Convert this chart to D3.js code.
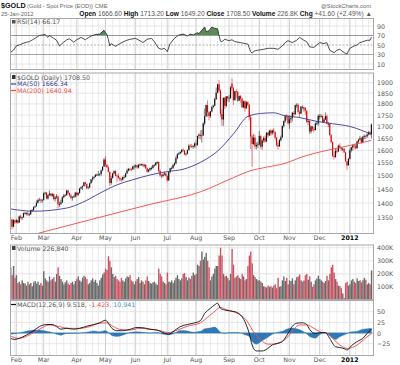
<!DOCTYPE html>
<html>
<head>
<meta charset="utf-8">
<script src="https://cdn.jsdelivr.net/npm/d3@7"></script>
<style>
body { margin: 0; background: #fff; }
svg text { font-family: "DejaVu Sans", Verdana, sans-serif; }
</style>
</head>
<body>
<svg id="chart"></svg>
<script>
// trading calendar: weekdays between the first and last bar, minus closed days
const firstDay = '2011-01-26', lastDay = '2012-01-25';
const closedDays = ['2011-02-21','2011-04-22','2011-05-30','2011-07-04','2011-09-05',
  '2011-11-24','2011-12-26','2012-01-02','2012-01-16'];

// daily OHLC, one line per month (Jan-11 .. Jan-12)
const opens = [
 1334,1342,1318,1338,
 1333,1340,1332,1353,1348,1350,1364,1365,1364,1360,1361,1374,1375,1385,1390,1400,1410,1412,1409,
 1411,1435,1437,1416,1428,1434,1426,1432,1414,1420,1423,1395,1396,1402,1420,1426,1428,1445,1435,1427,1418,1420,1423,
 1437,1429,1436,1452,1457,1461,1475,1469,1454,1456,1472,1486,1492,1496,1504,1504,1505,1507,1521,1535,
 1563,1543,1533,1515,1473,1491,1509,1518,1501,1500,1492,1487,1485,1495,1496,1509,1520,1527,1526,1525,1536,
 1536,1540,1532,1542,1543,1545,1539,1542,1529,1516,1523,1530,1530,1540,1541,1551,1553,1519,1501,1499,1505,1509,
 1500,1483,1514,1529,1530,1542,1548,1568,1584,1588,1594,1602,1600,1584,1587,1601,1619,1616,1615,1617,
 1628,1623,1659,1665,1659,1662,1713,1745,1795,1762,1745,1766,1786,1792,1822,1852,1892,1862,1755,1730,1828,1791,1835,
 1826,1828,1895,1873,1817,1859,1856,1815,1836,1824,1785,1812,1780,1808,1796,1740,1657,1626,1652,1616,1622,
 1624,1659,1615,1641,1650,1636,1673,1662,1682,1670,1683,1676,1652,1622,1616,1642,1654,1702,1723,1745,1744,
 1714,1731,1737,1760,1754,1794,1796,1763,1756,1788,1781,1783,1769,1720,1724,1678,1700,1690,1684,1713,1713,
 1746,1746,1746,1720,1730,1745,1712,1712,1663,1634,1578,1573,1598,1596,1619,1612,1606,1606,1592,1556,1540,
 1566,1600,1612,1620,1616,1609,1636,1644,1650,1633,1656,1660,1658,1666,1675,1666.6
];
const highs = [
 1346,1345,1344,1342,
 1345,1342,1357,1359,1352,1367,1369,1368,1371,1365,1376,1379,1388,1391,1409,1415,1419,1415,1414,
 1438,1441,1440,1431,1445,1436,1436,1434,1425,1432,1428,1405,1412,1425,1432,1433,1447,1448,1437,1432,1425,1428,1440,
 1440,1439,1455,1460,1464,1476,1478,1471,1462,1474,1487,1498,1498,1506,1508,1518,1510,1524,1536,1569,
 1577,1545,1539,1517,1500,1512,1521,1521,1505,1509,1495,1492,1497,1503,1511,1527,1529,1531,1529,1538,1543,
 1544,1544,1545,1548,1547,1547,1546,1545,1531,1526,1532,1536,1543,1545,1553,1557,1555,1524,1507,1509,1516,1511,
 1502,1518,1531,1536,1545,1553,1576,1589,1592,1596,1605,1609,1601,1590,1604,1624,1626,1627,1622,1633,
 1640,1661,1671,1683,1685,1718,1779,1797,1816,1766,1768,1793,1797,1828,1877,1895,1912,1868,1776,1830,1832,1836,1836,
 1842,1884,1921,1879,1860,1868,1861,1839,1842,1829,1815,1816,1813,1812,1799,1750,1664,1669,1664,1633,1636,
 1681,1664,1646,1658,1661,1676,1676,1686,1687,1687,1693,1678,1655,1633,1647,1661,1705,1726,1751,1753,1748,
 1749,1745,1764,1768,1797,1803,1802,1771,1790,1794,1787,1783,1770,1730,1727,1704,1702,1698,1718,1723,1753,
 1754,1755,1748,1737,1762,1752,1720,1714,1667,1637,1597,1606,1608,1624,1629,1614,1612,1609,1593,1557,1569,
 1607,1616,1624,1628,1623,1640,1647,1660,1655,1659,1666,1663,1671,1680,1680,1713.2
];
const lows = [
 1330,1309,1316,1327,
 1330,1328,1330,1343,1341,1349,1360,1356,1355,1354,1358,1369,1372,1382,1386,1398,1406,1401,1400,
 1408,1429,1412,1412,1426,1423,1421,1409,1405,1415,1380,1386,1393,1400,1417,1422,1426,1430,1422,1414,1408,1418,1420,
 1421,1425,1433,1450,1447,1460,1462,1450,1451,1454,1471,1478,1486,1494,1500,1500,1498,1500,1517,1534,
 1535,1530,1512,1462,1466,1490,1505,1498,1476,1489,1480,1477,1481,1489,1493,1508,1516,1518,1517,1522,1524,
 1530,1527,1528,1538,1538,1534,1532,1526,1512,1512,1518,1522,1527,1535,1539,1545,1512,1496,1491,1494,1501,1497,
 1478,1480,1509,1524,1526,1537,1545,1564,1581,1584,1588,1593,1580,1577,1583,1600,1612,1609,1606,1611,
 1611,1618,1647,1645,1632,1660,1704,1741,1742,1727,1737,1762,1779,1789,1818,1850,1853,1741,1702,1703,1777,1784,1811,
 1808,1823,1862,1795,1816,1828,1809,1815,1806,1779,1780,1765,1777,1790,1726,1605,1535,1622,1605,1604,1610,
 1620,1607,1602,1632,1631,1636,1653,1659,1660,1663,1670,1645,1615,1603,1615,1636,1650,1695,1716,1729,1708,
 1690,1715,1721,1745,1750,1782,1756,1737,1755,1775,1765,1752,1715,1706,1668,1670,1680,1675,1684,1706,1703,
 1731,1738,1717,1716,1727,1710,1697,1660,1628,1574,1564,1570,1587,1593,1605,1597,1598,1589,1554,1523,1540,
 1563,1592,1599,1605,1603,1606,1630,1639,1625,1629,1646,1647,1651,1662,1662,1649.2
];
const closes = [
 1342,1318,1341,1333,
 1340,1332,1353,1348,1350,1364,1364,1364,1360,1361,1374,1375,1385,1388,1400,1410,1412,1409,1411,
 1435,1437,1416,1428,1434,1426,1432,1414,1420,1423,1395,1396,1402,1420,1426,1428,1445,1435,1427,1418,1420,1423,1437,
 1429,1436,1452,1457,1461,1475,1469,1454,1456,1472,1486,1492,1496,1504,1504,1505,1507,1521,1535,1563,
 1543,1533,1515,1473,1491,1509,1518,1501,1500,1492,1487,1485,1495,1496,1509,1520,1527,1526,1525,1536,1536,
 1540,1532,1542,1543,1545,1539,1542,1529,1516,1523,1530,1530,1540,1541,1551,1553,1519,1501,1499,1505,1509,1500,
 1483,1514,1529,1530,1542,1548,1568,1584,1588,1594,1602,1600,1584,1587,1601,1619,1616,1615,1617,1628,
 1623,1659,1665,1659,1662,1713,1745,1795,1762,1745,1766,1786,1792,1822,1852,1892,1862,1755,1730,1828,1791,1835,1826,
 1828,1877,1873,1817,1859,1856,1815,1836,1824,1785,1812,1780,1808,1796,1740,1657,1626,1652,1616,1622,1624,
 1659,1615,1641,1650,1636,1673,1662,1682,1670,1683,1676,1652,1622,1616,1642,1654,1702,1723,1745,1744,1714,
 1731,1737,1760,1754,1794,1796,1763,1756,1788,1781,1783,1769,1720,1724,1678,1700,1690,1684,1713,1713,1746,
 1746,1746,1720,1730,1745,1712,1712,1663,1634,1578,1573,1598,1596,1619,1612,1606,1606,1592,1556,1540,1566,
 1600,1612,1620,1616,1609,1636,1644,1650,1633,1656,1660,1658,1666,1675,1666.9,1708.5
];
// volume in thousands
const volumes = [
 250,190,260,170,
 190,130,140,120,150,130,125,110,140,120,130,105,135,145,125,140,115,130,110,
 220,165,150,140,180,150,160,175,140,200,250,185,160,140,120,135,150,125,115,130,140,120,145,
 160,180,150,140,170,185,175,160,120,130,150,165,140,155,130,110,150,170,195,210,
 240,230,335,300,250,200,175,185,160,150,140,170,150,140,165,180,175,190,150,140,120,
 145,160,175,130,150,140,120,150,180,145,130,125,135,140,125,115,240,200,180,140,130,120,
 210,140,135,150,130,150,170,190,160,150,165,200,205,175,150,170,160,185,210,190,
 200,270,260,300,370,310,330,360,300,250,150,180,200,240,260,260,340,400,340,200,180,185,170,
 150,200,390,270,170,180,190,170,160,200,180,150,160,260,340,370,280,190,175,160,150,
 150,140,130,105,100,95,110,100,105,95,110,120,90,170,100,105,150,180,145,170,120,
 150,145,165,120,150,175,180,195,150,140,150,190,200,155,180,140,100,120,150,165,185,
 160,150,140,130,145,185,150,200,250,270,210,160,140,110,105,90,50,15,130,140,110,
 120,150,160,140,130,165,145,150,135,150,170,155,120,130,120,226.8
];

// indicator readings: bar number -> value
const ma50Days = [0,16,39,50,62,74,85,97,109,120,132,144,155,165,174,183,190,201,213,224,236,251];
const ma50Values = [1379,1371,1382,1402,1435,1466,1485,1503,1516,1525,1552,1597,1668,1744,1757,1760,1748,1739,1722,1712,1700,1666.34];
const ma200Days = [14,62,97,132,155,166,178,192,201,224,236,251];
const ma200Values = [1290,1350,1395,1440,1493,1518,1533,1550,1570,1605,1620,1640.94];

const rsiDays = [0,2,4,6,10,13,17,20,24,26,27,30,32,34,37,39,41,44,46,49,52,54,56,59,62,65,66,67,68,69,70,73,76,80,83,87,90,92,95,98,
  100,103,105,107,109,111,114,117,120,123,125,127,130,131,133,135,136,138,140,142,144,145,146,147,149,152,154,156,160,163,
  165,166,167,168,170,172,176,179,183,186,189,191,193,196,199,201,204,206,208,211,213,215,218,220,222,225,227,229,232,234,
  236,239,241,243,245,248,250,251];
const rsiValues = [34.5,39,48,50,55,57,64,70,72,66,70,64,60,48,56,61,63,56,61,66,61,65,69,72,73,81,76,72,62,48,53,47,53,59,62,64,59,55,62,64,
  57,43,41,43,36,53,64,71,73,69,73,71,76,74,81,88,78,80,88,85,84,70,58,57,62,59,61,57,55,53,
  52,44,36,33,38,39,41,43,43,41,48,55,59,55,60,66,60,57,46,45,50,55,53,55,39,34,39,41,34,31,
  43,48,50,55,57,60,60,66.17];

const macdDays = [0,3,6,11,16,20,25,29,32,35,39,44,48,53,58,62,66,68,70,74,78,83,88,92,97,102,106,110,113,118,123,127,132,135,139,142,144,146,149,152,
  156,160,163,166,168,171,175,179,182,186,189,193,196,199,203,206,208,212,215,219,222,226,229,233,234,237,241,245,248,251];
const macdValues = [-12.5,-15,-12.5,-4.7,5.5,15,20,20,15,9,11,9,11,16,20,24,30,23,13,5.5,5.5,8.6,13,12.5,9,7,1,-3,3,15,20,23,29,46,58,66,70,58,54,52,
  50,42,26.5,-1,-28,-42,-42,-36,-28,-24,-20,-1,16,23,24,20,8.6,-1,1,1,-12.5,-32,-34,-38,-40,-30,-20,-12.5,-1,9.518];
const signalDays = [0,6,13,20,27,34,41,48,55,62,67,71,76,83,90,97,104,110,116,123,132,136,141,146,150,155,160,164,169,174,
  179,183,187,193,197,201,206,211,215,220,225,229,234,239,243,248,251];
const signalValues = [-7,-12.5,-4.7,8.6,19,15,11,11,15,23,24,16,8.6,7,11,8.6,5.5,1,7,16,24,34,48,60,55,50,42,30,3,-16,
  -26,-26,-23,-8.6,8.6,19,19,11,3,-1,-16,-28,-36,-32,-23,-8.6,-1.423];
const histDays = [0,6,11,16,20,25,29,32,35,39,44,48,53,58,62,66,68,70,74,79,83,88,92,97,102,106,110,113,118,123,127,132,135,139,142,146,149,152,156,160,
  163,166,168,171,175,179,182,186,189,192,196,199,203,206,208,212,215,219,222,226,229,233,236,241,245,248,251];
const histValues = [-3,0,4,7,7,4,1,-3,-5,-1,-1,0,2,5,3,6,1,-5,-8,-4,1,3,2,0,1,-3,-4,-2,6,5,2,4,10,12,14,2,-1,1,1,0,
  -4,-8,-20,-26,-18,-10,-3,2,4,9,12,10,5,-2,-8,-12,-4,1,-6,-15,-9,-3,2,4,9,10,10.941];

const priceTicks = [1350,1400,1450,1500,1550,1600,1650,1700,1750,1800,1850,1900];
const rsiTicks = [10,30,50,70,90];
const volTicks = [100,200,300,400];
const macdTicks = [-25,0,25,50];

// ---------------------------------------------------------------
const parse = d3.timeParse('%Y-%m-%d'), fmt = d3.timeFormat('%Y-%m-%d');
const dates = d3.timeDay.range(parse(firstDay), d3.timeDay.offset(parse(lastDay), 1))
  .filter(d => d.getDay() % 6 !== 0 && !closedDays.includes(fmt(d)));
const n = dates.length;
[opens, highs, lows, closes, volumes].forEach((a, k) => {
  if (a.length !== n) throw new Error('series ' + k + ' has ' + a.length + ' values, calendar has ' + n);
});

const width = 400, height = 365;
const left = 10, right = 374;
const rsiP = {top: 18, bottom: 70}, priceP = {top: 72.5, bottom: 234},
      volP = {top: 244.5, bottom: 300}, macdP = {top: 300, bottom: 356};

const svg = d3.select('#chart').attr('width', width).attr('height', height);

const x = d3.scaleBand().domain(d3.range(n)).range([left, 372]).paddingInner(0.2);
const cx = i => x(i) + x.bandwidth() / 2;
const yR = d3.scaleLinear().domain([0, 100]).range([68.75, 21.25]);
const yP = d3.scaleLog().domain([1294, 1947]).range([234, 73]);
const yV = d3.scaleLinear().domain([0, 400]).range([300, 247.7]);
const yM = d3.scaleLinear().domain([-25, 50]).range([343.7, 311.7]);

const isDown = i => i > 0 ? closes[i] < closes[i - 1] : closes[i] < opens[i];

// week / month boundaries for the vertical grid
const weekStarts = d3.range(n).filter(i => i > 0 && (dates[i].getDay() <= dates[i - 1].getDay() || dates[i] - dates[i - 1] > 3 * 864e5));
const monthStarts = d3.range(n).filter(i => i > 0 && dates[i].getMonth() !== dates[i - 1].getMonth());

const defs = svg.append('defs');
function panel(p, name) {
  defs.append('clipPath').attr('id', 'clip-' + name)
    .append('rect').attr('x', left).attr('y', p.top).attr('width', right - left).attr('height', p.bottom - p.top);
  const g = svg.append('g');
  g.append('g').selectAll('line').data(weekStarts).join('line')
    .attr('x1', cx).attr('x2', cx).attr('y1', p.top).attr('y2', p.bottom)
    .attr('stroke', '#e6e6e6').attr('stroke-width', 0.8);
  g.append('g').selectAll('line').data(monthStarts).join('line')
    .attr('x1', cx).attr('x2', cx).attr('y1', p.top).attr('y2', p.bottom)
    .attr('stroke', '#c4c4c4').attr('stroke-width', 0.8);
  return g;
}
function frame(p) {
  svg.append('rect').attr('x', left + 0.5).attr('y', p.top + 0.5)
    .attr('width', right - left - 1).attr('height', p.bottom - p.top - 1)
    .attr('fill', 'none').attr('stroke', '#a8a8a8').attr('stroke-width', 1);
}
function hgrid(g, scale, ticks, colorFn, dashFn) {
  g.append('g').selectAll('line').data(ticks).join('line')
    .attr('x1', left).attr('x2', right).attr('y1', d => scale(d)).attr('y2', d => scale(d))
    .attr('stroke', d => colorFn ? colorFn(d) : '#e0e0e0').attr('stroke-width', 0.8)
    .attr('stroke-dasharray', d => dashFn ? dashFn(d) : null);
}
function rightAxis(scale, ticks, format) {
  const a = svg.append('g').attr('transform', `translate(${right},0)`)
    .call(d3.axisRight(scale).tickValues(ticks).tickSize(0).tickPadding(3).tickFormat(format));
  a.select('.domain').remove();
  a.selectAll('text').attr('font-size', 6.3).attr('fill', '#555').style('font-family', '"DejaVu Sans", sans-serif');
}
function bottomAxis(y) {
  const a = svg.append('g').attr('transform', `translate(0,${y})`)
    .call(d3.axisBottom(x).tickValues(monthStarts).tickSize(0).tickPadding(1)
      .tickFormat(i => dates[i].getMonth() === 0 ? d3.timeFormat('%Y')(dates[i]) : d3.timeFormat('%b')(dates[i])));
  a.select('.domain').remove();
  a.selectAll('text').attr('font-size', 6.3).style('font-family', '"DejaVu Sans", sans-serif')
    .attr('fill', i => dates[i].getMonth() === 0 ? '#000' : '#555')
    .attr('font-weight', i => dates[i].getMonth() === 0 ? 'bold' : 'normal');
}
const sparse = (days, vals) => d3.zip(days, vals);

// ---- RSI panel
const gR = panel(rsiP, 'rsi');
hgrid(gR, yR, rsiTicks, d => (d === 70 || d === 30) ? '#8c8c8c' : (d === 50 ? '#a0a0a0' : '#e0e0e0'), d => d === 50 ? '2,1.5' : null);
const rsiData = sparse(rsiDays, rsiValues);
defs.append('clipPath').attr('id', 'clip-over70')
  .append('rect').attr('x', left).attr('y', rsiP.top).attr('width', right - left).attr('height', yR(70) - rsiP.top);
gR.append('path').datum(rsiData).attr('clip-path', 'url(#clip-over70)')
  .attr('d', d3.area().x(d => cx(d[0])).y0(yR(70)).y1(d => yR(d[1])))
  .attr('fill', '#5b8a57');
gR.append('path').datum(rsiData).attr('clip-path', 'url(#clip-rsi)')
  .attr('d', d3.line().x(d => cx(d[0])).y(d => yR(d[1])))
  .attr('fill', 'none').attr('stroke', '#222').attr('stroke-width', 0.8);
frame(rsiP);
rightAxis(yR, rsiTicks, d3.format('d'));
svg.append('rect').attr('x', 12).attr('y', 20).attr('width', 3.5).attr('height', 3.5).attr('fill', '#555');
svg.append('text').attr('x', 17).attr('y', 24).attr('font-size', 6.3).attr('fill', '#555').text('RSI(14) 66.17');

// ---- price panel
const gP = panel(priceP, 'price');
hgrid(gP, yP, priceTicks);
const gC = gP.append('g').attr('clip-path', 'url(#clip-price)');
const candleColor = i => isDown(i) ? '#e00000' : '#111';
gC.append('g').selectAll('line').data(d3.range(n)).join('line')
  .attr('x1', cx).attr('x2', cx).attr('y1', i => yP(highs[i])).attr('y2', i => yP(lows[i]))
  .attr('stroke', candleColor).attr('stroke-width', 0.7).attr('stroke-opacity', 0.75);
gC.append('g').selectAll('rect').data(d3.range(n)).join('rect')
  .attr('x', i => x(i)).attr('width', x.bandwidth())
  .attr('y', i => yP(Math.max(opens[i], closes[i])))
  .attr('height', i => Math.max(0.8, Math.abs(yP(opens[i]) - yP(closes[i]))))
  .attr('fill', candleColor);
gC.append('path').datum(sparse(ma50Days, ma50Values))
  .attr('d', d3.line().x(d => cx(d[0])).y(d => yP(d[1])).curve(d3.curveMonotoneX))
  .attr('fill', 'none').attr('stroke', '#3a3a96').attr('stroke-width', 0.9);
gC.append('path').datum(sparse(ma200Days, ma200Values))
  .attr('d', d3.line().x(d => cx(d[0])).y(d => yP(d[1])).curve(d3.curveMonotoneX))
  .attr('fill', 'none').attr('stroke', '#f04848').attr('stroke-width', 0.9);
frame(priceP);
rightAxis(yP, priceTicks, d3.format('d'));
bottomAxis(235);

const leg = svg.append('g').attr('font-size', 6.3);
leg.append('rect').attr('x', 12).attr('y', 75).attr('width', 3.5).attr('height', 4).attr('fill', '#333');
leg.append('text').attr('x', 17).attr('y', 79.5).attr('fill', '#555').text('$GOLD (Daily) 1708.50');
leg.append('line').attr('x1', 11).attr('x2', 16).attr('y1', 84).attr('y2', 84).attr('stroke', '#3a3a96').attr('stroke-width', 1.2);
leg.append('text').attr('x', 17).attr('y', 86).attr('fill', '#3a3a96').text('MA(50) 1666.34');
leg.append('line').attr('x1', 11).attr('x2', 16).attr('y1', 90.5).attr('y2', 90.5).attr('stroke', '#f04848').attr('stroke-width', 1.2);
leg.append('text').attr('x', 17).attr('y', 92.5).attr('fill', '#f04848').text('MA(200) 1640.94');

// ---- volume panel
const gV = panel(volP, 'vol');
hgrid(gV, yV, volTicks);
gV.append('g').attr('clip-path', 'url(#clip-vol)').selectAll('rect').data(d3.range(n)).join('rect')
  .attr('x', i => x(i)).attr('width', x.bandwidth() + 0.25)
  .attr('y', i => yV(volumes[i])).attr('height', i => yV(0) - yV(volumes[i]))
  .attr('fill', i => isDown(i) ? '#cf5463' : '#6b6b6b');
frame(volP);
rightAxis(yV, volTicks, d => d + 'K');
svg.append('rect').attr('x', 12).attr('y', 246).attr('width', 3.5).attr('height', 4).attr('fill', '#444');
svg.append('text').attr('x', 17).attr('y', 250.5).attr('font-size', 6.3).attr('fill', '#555').text('Volume 226,840');

// ---- MACD panel
const gM = panel(macdP, 'macd');
hgrid(gM, yM, macdTicks);
const gMc = gM.append('g').attr('clip-path', 'url(#clip-macd)');
gMc.append('path').datum(sparse(histDays, histValues))
  .attr('d', d3.area().x(d => cx(d[0])).y0(yM(0)).y1(d => yM(d[1])).curve(d3.curveMonotoneX))
  .attr('fill', '#2f78b6').attr('stroke', '#2f78b6').attr('stroke-width', 0.4);
gMc.append('line').attr('x1', left).attr('x2', right).attr('y1', yM(0)).attr('y2', yM(0))
  .attr('stroke', '#2f78b6').attr('stroke-width', 0.8).attr('stroke-opacity', 0.6);
gMc.append('path').datum(sparse(signalDays, signalValues))
  .attr('d', d3.line().x(d => cx(d[0])).y(d => yM(d[1])).curve(d3.curveMonotoneX))
  .attr('fill', 'none').attr('stroke', '#f04848').attr('stroke-width', 0.9);
gMc.append('path').datum(sparse(macdDays, macdValues))
  .attr('d', d3.line().x(d => cx(d[0])).y(d => yM(d[1])).curve(d3.curveMonotoneX))
  .attr('fill', 'none').attr('stroke', '#111').attr('stroke-width', 0.9);
svg.append('rect').attr('x', left + 0.5).attr('y', macdP.top + 0.5)
  .attr('width', right - left - 1).attr('height', macdP.bottom - macdP.top - 1)
  .attr('fill', 'none').attr('stroke', '#a8a8a8');
rightAxis(yM, macdTicks, d3.format('d'));
bottomAxis(357);
const ml = svg.append('text').attr('x', 17).attr('y', 306.5).attr('font-size', 6.3);
svg.append('line').attr('x1', 11).attr('x2', 16).attr('y1', 304.5).attr('y2', 304.5).attr('stroke', '#111').attr('stroke-width', 1.2);
ml.append('tspan').attr('fill', '#555').text('MACD(12,26,9) 9.518, ');
ml.append('tspan').attr('fill', '#f04848').text('-1.423, ');
ml.append('tspan').attr('fill', '#4d8fcf').text('10.941');

// ---- header
const hdr = svg.append('g').style('font-family', '"Liberation Sans", Arial, sans-serif');
hdr.append('text').attr('x', 1).attr('y', 8).attr('font-size', 7.2).attr('font-weight', 'bold').attr('fill', '#111')
  .style('font-family', 'inherit').text('$GOLD');
hdr.append('text').attr('x', 27).attr('y', 8).attr('font-size', 5.8).attr('fill', '#666')
  .style('font-family', 'inherit').text('(Gold - Spot Price (EOD)) CME');
hdr.append('text').attr('x', 371).attr('y', 8).attr('font-size', 5.8).attr('fill', '#666').attr('text-anchor', 'end')
  .style('font-family', 'inherit').text('@StockCharts.com');
hdr.append('text').attr('x', 1).attr('y', 15.5).attr('font-size', 5.8).attr('fill', '#666')
  .style('font-family', 'inherit').text('25-Jan-2012');
const quote = hdr.append('text').attr('x', 372).attr('y', 15.5).attr('font-size', 6.6).attr('fill', '#555')
  .attr('text-anchor', 'end').style('font-family', 'inherit');
[['Open', ' 1666.60 '], ['High', ' 1713.20 '], ['Low', ' 1649.20 '], ['Close', ' 1708.50 '],
 ['Volume', ' 226.8K '], ['Chg', ' +41.60 (+2.49%) \u25B2']].forEach(([k, v]) => {
  quote.append('tspan').attr('font-weight', 'bold').attr('fill', '#111').text(k);
  quote.append('tspan').text(v);
});
</script>
</body>
</html>
